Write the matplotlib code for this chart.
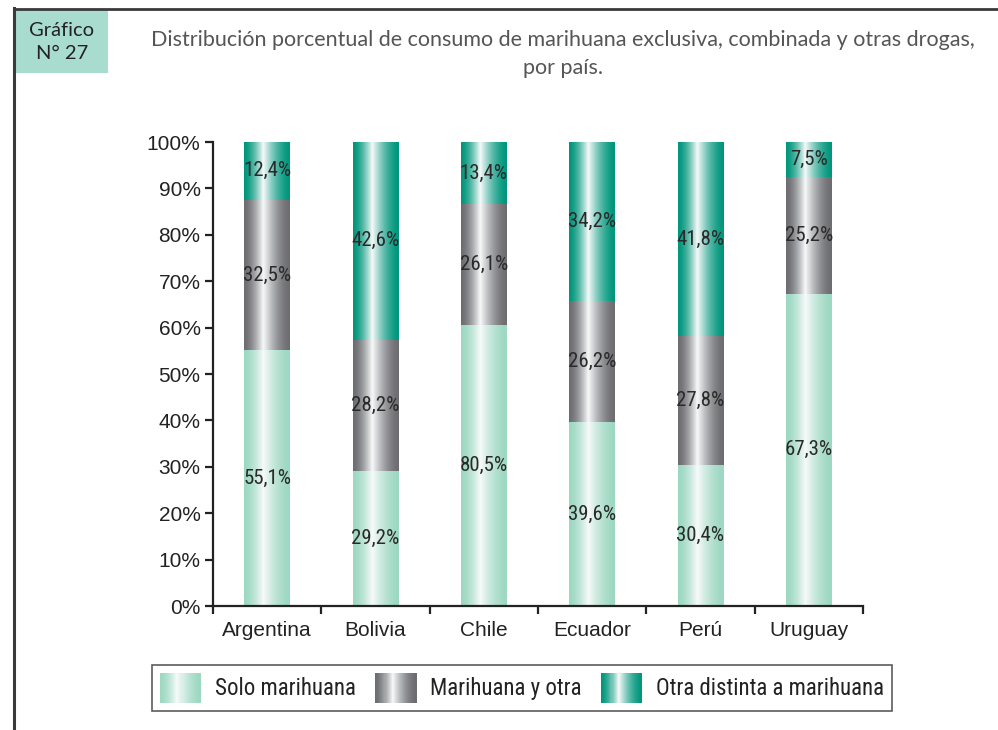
import numpy as np
import matplotlib
matplotlib.use('Agg')
import matplotlib.pyplot as plt
from matplotlib import font_manager as fm
from matplotlib.colors import to_rgb
from matplotlib.patches import Rectangle
from matplotlib.lines import Line2D
from matplotlib.legend_handler import HandlerBase

# ---------------- data ----------------
countries = ['Argentina', 'Bolivia', 'Chile', 'Ecuador', 'Perú', 'Uruguay']
solo = [55.1, 29.2, 60.5, 39.6, 30.4, 67.3]
combinada = [32.5, 28.2, 26.1, 26.2, 27.8, 25.2]
otra = [12.4, 42.6, 13.4, 34.2, 41.8, 7.5]
solo_labels = ['55,1%', '29,2%', '80,5%', '39,6%', '30,4%', '67,3%']
combinada_labels = ['32,5%', '28,2%', '26,1%', '26,2%', '27,8%', '25,2%']
otra_labels = ['12,4%', '42,6%', '13,4%', '34,2%', '41,8%', '7,5%']
series_names = ['Solo marihuana', 'Marihuana y otra', 'Otra distinta a marihuana']
yticks = [0, 10, 20, 30, 40, 50, 60, 70, 80, 90, 100]

colors = ['#9cd8c2', '#6c6c71', '#00967c']

W, H = 998, 730
fig = plt.figure(figsize=(W / 100, H / 100), dpi=100)
fig.patch.set_facecolor('white')

# find a condensed font if any is installed
narrow_prop = None
for f in fm.fontManager.ttflist:
    if f.name in ('Liberation Sans Narrow', 'Arial Narrow', 'Roboto Condensed',
                  'Open Sans Condensed'):
        narrow_prop = dict(family=[f.name])
        break
if narrow_prop is None:
    for f in fm.fontManager.ttflist:
        st = str(f.stretch)
        if f.name == 'DejaVu Sans' and ('condensed' in st):
            narrow_prop = dict(family=['DejaVu Sans'], stretch='condensed')
            break
HAVE_NARROW = narrow_prop is not None
if narrow_prop is None:
    narrow_prop = dict(family=['Liberation Sans', 'DejaVu Sans'])

main_font = ['Liberation Sans', 'DejaVu Sans']
title_font = ['Lato', 'DejaVu Sans']


def grad_profile(n=200, peak=0.42, power=1.6):
    t = (np.arange(n) + 0.5) / n
    d = np.where(t < peak, (peak - t) / peak, (t - peak) / (1 - peak))
    f = np.clip(1 - d, 0, 1) ** power
    return t, f


def grad_color(base, f):
    c = np.array(to_rgb(base))
    white = np.array([0.97, 0.98, 0.98])
    return c + (white - c) * f


def grad_image(base, n=200):
    _, f = grad_profile(n)
    img = np.array([grad_color(base, fi) for fi in f])
    return img[None, :, :]


ax = fig.add_axes([213 / W, 1 - 606 / H, 650 / W, 464 / H])
x = np.arange(len(countries))
bw = 0.42

lab_size = 15 if HAVE_NARROW else 11.5
bottoms = np.zeros(len(countries))
all_labels = [solo_labels, combinada_labels, otra_labels]
for vals, col, labs in zip([solo, combinada, otra], colors, all_labels):
    bars = ax.bar(x, vals, bw, bottom=bottoms, facecolor='none', edgecolor='none')
    img = grad_image(col)
    for patch, lab in zip(bars.patches, labs):
        x0, y0 = patch.get_x(), patch.get_y()
        w, h = patch.get_width(), patch.get_height()
        im = ax.imshow(img, extent=[x0, x0 + w, y0, y0 + h], aspect='auto',
                       interpolation='bilinear', zorder=2)
        im.set_clip_path(patch)
        ax.text(x0 + w / 2, y0 + h / 2, lab, ha='center', va='center',
                fontsize=lab_size, color='#2a2a2a', zorder=3, **narrow_prop)
    bottoms = bottoms + np.array(vals)

ax.set_xlim(-0.5, len(countries) - 0.5)
ax.set_ylim(0, 100)
ax.set_aspect('auto')

for s in ['top', 'right']:
    ax.spines[s].set_visible(False)
for s in ['left', 'bottom']:
    ax.spines[s].set_color('#222222')
    ax.spines[s].set_linewidth(1.6)

ax.set_yticks(yticks)
ax.set_yticklabels([f'{v}%' for v in yticks], fontsize=15, family=main_font, color='#222222')
ax.tick_params(axis='y', direction='out', length=6, width=1.6, color='#222222', pad=3)

ax.set_xticks(x)
ax.set_xticklabels(countries, fontsize=15, family=main_font, color='#222222')
ax.set_xticks(np.arange(-0.5, len(countries), 1.0), minor=True)
ax.tick_params(axis='x', which='major', length=0, pad=11)
ax.tick_params(axis='x', which='minor', direction='out', length=6, width=1.6, color='#222222')


# ---------------- legend ----------------
class GradHandler(HandlerBase):
    def create_artists(self, legend, orig_handle, xdescent, ydescent,
                       width, height, fontsize, trans):
        base = orig_handle.get_facecolor()
        t, f = grad_profile(40)
        arts = []
        n = len(t)
        for i in range(n):
            r = Rectangle((-xdescent + width * i / n, -ydescent), width / n * 1.08, height,
                          facecolor=grad_color(base, f[i]), edgecolor='none',
                          transform=trans)
            arts.append(r)
        return arts


leg_prop = dict(narrow_prop)
leg_prop['size'] = 16.5 if HAVE_NARROW else 14
handles = [Rectangle((0, 0), 1, 1, facecolor=c) for c in colors]
leg = fig.legend(handles, series_names, loc='center', bbox_to_anchor=(522 / W, 1 - 688 / H),
                 ncol=3, frameon=True, fancybox=False, edgecolor='#333333',
                 prop=fm.FontProperties(**leg_prop), handlelength=1.8, handleheight=1.65,
                 handletextpad=0.6, columnspacing=0.85, borderpad=0.35,
                 handler_map={Rectangle: GradHandler()})
leg.get_frame().set_linewidth(1.2)
for t in leg.get_texts():
    t.set_color('#222222')

# ---------------- frame and header ----------------
fig.add_artist(Line2D([14 / W, 14 / W], [0, 1 - 8 / H], color='#3a3a3a', lw=2.2))
fig.add_artist(Line2D([14 / W, 1], [1 - 9 / H, 1 - 9 / H], color='#3a3a3a', lw=2.0))
fig.add_artist(Rectangle((15 / W, 1 - 73 / H), 93 / W, 63 / H, transform=fig.transFigure,
                         facecolor='#a8dccf', edgecolor='none'))
fig.text(62 / W, 1 - 42 / H, 'Gráfico\nN° 27', ha='center', va='center', fontsize=14.5,
         family=title_font, color='#222222', linespacing=1.45)
fig.text(563 / W, 1 - 54 / H,
         'Distribución porcentual de consumo de marihuana exclusiva, combinada y otras drogas,\npor país.',
         ha='center', va='center', fontsize=15.5, family=title_font, color='#555555',
         linespacing=1.55)

fig.savefig('out.png', dpi=100)
